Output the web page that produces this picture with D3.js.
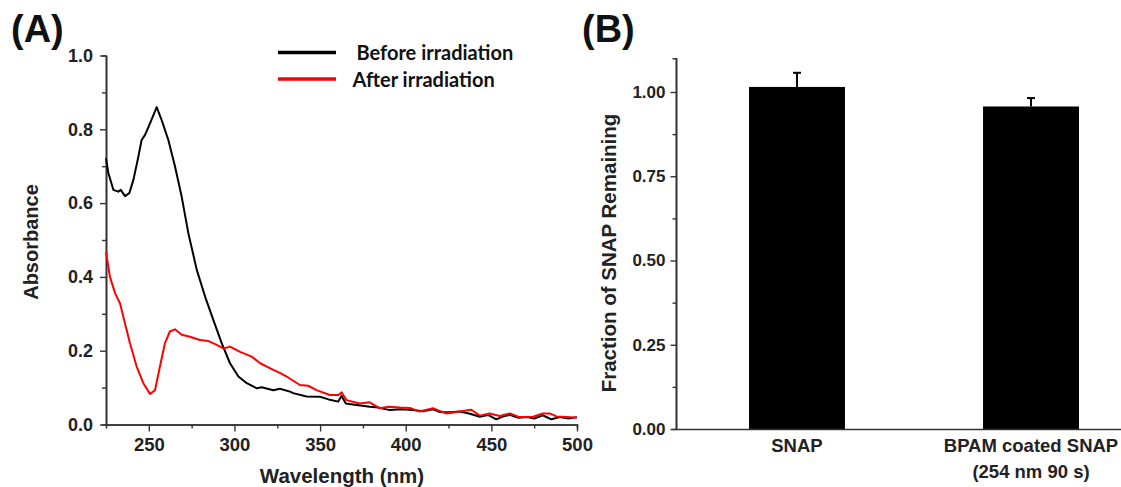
<!DOCTYPE html>
<html>
<head>
<meta charset="utf-8">
<script src="https://cdn.jsdelivr.net/npm/d3@7"></script>
<style>
  body { margin: 0; background: #fff; }
  svg { display: block; font-family: "Liberation Sans", Arial, sans-serif; font-weight: bold; }
</style>
</head>
<body>
<div id="chart"></div>
<script>
// Panel A: absorbance spectra
var beforeWl = [225, 226.4, 229.3, 232.2, 233.6, 236.1, 238.6, 241, 243.9, 245.8, 247.8, 250.7, 254.6, 257.5,
    261.4, 265.3, 269.2, 273.1, 278, 282.9, 287.7, 292.6, 297.4, 302.3, 307.2, 313, 315.9, 322.7, 326.5,
    332.4, 334.3, 342.1, 349.9, 355, 360.6, 362.5, 365, 371.3, 379, 384, 390.7, 397, 404.3, 410, 415.9,
    420, 426, 431.5, 437, 443.2, 448, 452.9, 457, 460.7, 466, 471, 475, 480, 485, 490, 495, 500];
var beforeAbs = [0.721, 0.681, 0.636, 0.631, 0.636, 0.619, 0.627, 0.663, 0.726, 0.771, 0.785, 0.816, 0.86, 0.825,
    0.771, 0.699, 0.617, 0.518, 0.419, 0.346, 0.283, 0.22, 0.166, 0.13, 0.112, 0.098, 0.101, 0.093, 0.097,
    0.089, 0.085, 0.076, 0.075, 0.068, 0.062, 0.078, 0.057, 0.053, 0.048, 0.046, 0.039, 0.041, 0.039, 0.036, 0.041,
    0.034, 0.033, 0.035, 0.030, 0.021, 0.026, 0.014, 0.022, 0.026, 0.018, 0.02, 0.016, 0.025, 0.014, 0.02, 0.016, 0.02];

var afterWl = [225, 227.3, 230.3, 233.2, 236.1, 239, 242.9, 246.8, 250.7, 253.6, 256.5, 259.4, 262.3, 265.3,
    269.2, 274, 279.9, 284.8, 288.7, 293.6, 297.4, 303.3, 310.1, 315, 322.7, 326.5, 330.5, 338.2, 343,
    347.9, 355.7, 360.7, 362.5, 365.4, 373.2, 379, 384.9, 390, 396.5, 402.4, 408.2, 415.9, 419, 423.7,
    431.5, 438.3, 443.2, 449, 454.9, 460.7, 466.5, 474.3, 480.1, 484, 488, 494, 500];
var afterAbs = [0.468, 0.40, 0.356, 0.328, 0.274, 0.22, 0.157, 0.112, 0.083, 0.093, 0.157, 0.22, 0.252, 0.258,
    0.243, 0.238, 0.229, 0.226, 0.218, 0.206, 0.211, 0.197, 0.184, 0.166, 0.148, 0.14, 0.13, 0.107, 0.105,
    0.093, 0.08, 0.08, 0.087, 0.066, 0.057, 0.06, 0.044, 0.048, 0.046, 0.045, 0.035, 0.044, 0.038, 0.03,
    0.035, 0.040, 0.024, 0.03, 0.023, 0.03, 0.02, 0.021, 0.03, 0.03, 0.022, 0.02, 0.018];

var seriesNames = ["Before irradiation", "After irradiation"];
var seriesColors = ["#000000", "#ff0000"];

var xTicksA = [250, 300, 350, 400, 450, 500];
var xMinorA = [275, 325, 375, 425, 475];
var yTicksA = [0, 0.2, 0.4, 0.6, 0.8, 1.0];
var yMinorA = [0.1, 0.3, 0.5, 0.7, 0.9];

// Panel B: fraction of SNAP remaining
var categories = ["SNAP", "BPAM coated SNAP|(254 nm 90 s)"];
var fractions = [1.015, 0.957];
var errors = [0.042, 0.025];
var yTicksB = [0, 0.25, 0.5, 0.75, 1.0];
var yMinorB = [0.125, 0.375, 0.625, 0.875];

var width = 1121, height = 487;
var axisColor = "#333";

var svg = d3.select("#chart").append("svg")
    .attr("width", width)
    .attr("height", height);

function styleAxis(g, fontSize) {
    g.select(".domain").attr("stroke", axisColor).attr("stroke-width", 1.6);
    g.selectAll(".tick line").attr("stroke", axisColor).attr("stroke-width", 1.4);
    g.selectAll("text")
        .attr("fill", "#222")
        .style("font-size", fontSize + "px")
        .style("font-weight", "bold")
        .style("font-family", "'Liberation Sans', Arial, sans-serif");
}

// ---------- Panel A ----------
var xA = d3.scaleLinear().domain([225, 500]).range([106, 577]);
var yA = d3.scaleLinear().domain([0, 1]).range([424.5, 55.5]);

var gA = svg.append("g");

// minor ticks first (no labels)
gA.append("g")
    .attr("transform", "translate(0," + yA(0) + ")")
    .call(d3.axisBottom(xA).tickValues(xMinorA).tickSize(4).tickFormat(""))
    .call(function (g) { styleAxis(g, 18); });
gA.append("g")
    .attr("transform", "translate(" + xA(225) + ",0)")
    .call(d3.axisLeft(yA).tickValues(yMinorA).tickSize(4).tickFormat(""))
    .call(function (g) { styleAxis(g, 18); });

var xAxisA = gA.append("g")
    .attr("transform", "translate(0," + yA(0) + ")")
    .call(d3.axisBottom(xA).tickValues(xTicksA).tickSize(7).tickSizeOuter(0).tickFormat(d3.format("d")))
    .call(function (g) { styleAxis(g, 18.5); });
xAxisA.selectAll("text").attr("y", 26).attr("dy", null);

var yAxisA = gA.append("g")
    .attr("transform", "translate(" + xA(225) + ",0)")
    .call(d3.axisLeft(yA).tickValues(yTicksA).tickSize(6).tickSizeOuter(0).tickPadding(7).tickFormat(d3.format(".1f")))
    .call(function (g) { styleAxis(g, 18); });

var line = d3.line()
    .x(function (d) { return xA(d[0]); })
    .y(function (d) { return yA(d[1]); })
    .curve(d3.curveLinear);

var beforeData = d3.zip(beforeWl, beforeAbs);
var afterData = d3.zip(afterWl, afterAbs);

gA.append("path")
    .datum(beforeData)
    .attr("d", line)
    .attr("fill", "none")
    .attr("stroke", seriesColors[0])
    .attr("stroke-width", 2)
    .attr("stroke-linejoin", "round");
gA.append("path")
    .datum(afterData)
    .attr("d", line)
    .attr("fill", "none")
    .attr("stroke", seriesColors[1])
    .attr("stroke-width", 2)
    .attr("stroke-linejoin", "round");

// legend
var legendY = [52.5, 79];
var legendTextX = [356.5, 352.5];
seriesNames.forEach(function (name, i) {
    gA.append("line")
        .attr("x1", 278).attr("x2", 336)
        .attr("y1", legendY[i]).attr("y2", legendY[i])
        .attr("stroke", seriesColors[i])
        .attr("stroke-width", 3.5);
    gA.append("text")
        .attr("x", legendTextX[i])
        .attr("y", legendY[i] + 7.5)
        .style("font-family", "Lato, 'Open Sans', sans-serif")
        .style("font-size", "20px")
        .style("font-weight", "bold")
        .attr("fill", "#111")
        .text(name);
});

gA.append("text")
    .attr("x", 342).attr("y", 483)
    .attr("text-anchor", "middle")
    .style("font-size", "20.5px")
    .attr("fill", "#222")
    .text("Wavelength (nm)");
gA.append("text")
    .attr("transform", "translate(37.5,242) rotate(-90)")
    .attr("text-anchor", "middle")
    .style("font-size", "20px")
    .attr("fill", "#222")
    .text("Absorbance");
svg.append("text")
    .attr("x", 11).attr("y", 42)
    .style("font-size", "38px")
    .attr("fill", "#111")
    .text("(A)");

// ---------- Panel B ----------
var xB = d3.scaleBand().domain(categories).range([676, 1152]).paddingInner(0.59).paddingOuter(0.312);
var yB = d3.scaleLinear().domain([0, 1.1]).range([429, 58.3]);

var gB = svg.append("g");

gB.append("g")
    .attr("transform", "translate(676,0)")
    .call(d3.axisLeft(yB).tickValues(yMinorB).tickSize(3.5).tickFormat(""))
    .call(function (g) { styleAxis(g, 17); });
gB.append("g")
    .attr("transform", "translate(676,0)")
    .call(d3.axisLeft(yB).tickValues(yTicksB).tickSize(5.5).tickSizeOuter(0).tickPadding(5).tickFormat(d3.format(".2f")))
    .call(function (g) { styleAxis(g, 17); });

gB.selectAll("rect.bar")
    .data(categories)
    .enter()
    .append("rect")
    .attr("class", "bar")
    .attr("x", function (d) { return xB(d); })
    .attr("width", xB.bandwidth())
    .attr("y", function (d, i) { return yB(fractions[i]); })
    .attr("height", function (d, i) { return yB(0) - yB(fractions[i]); })
    .attr("fill", "#000");

// upper error bars only
categories.forEach(function (c, i) {
    var cx = xB(c) + xB.bandwidth() / 2;
    gB.append("line")
        .attr("x1", cx).attr("x2", cx)
        .attr("y1", yB(fractions[i])).attr("y2", yB(fractions[i] + errors[i]))
        .attr("stroke", "#000").attr("stroke-width", 2);
    gB.append("line")
        .attr("x1", cx - 4).attr("x2", cx + 4)
        .attr("y1", yB(fractions[i] + errors[i])).attr("y2", yB(fractions[i] + errors[i]))
        .attr("stroke", "#000").attr("stroke-width", 2);
});

var xAxisB = gB.append("g")
    .attr("transform", "translate(0," + yB(0) + ")")
    .call(d3.axisBottom(xB).tickSize(0).tickSizeOuter(0).tickFormat(""))
    .call(function (g) { styleAxis(g, 18.5); });

// category labels (two lines for the second one)
categories.forEach(function (c) {
    var parts = c.split("|");
    var t = gB.append("text")
        .attr("text-anchor", "middle")
        .style("font-size", "18.5px")
        .attr("fill", "#222");
    parts.forEach(function (p, j) {
        t.append("tspan")
            .attr("x", xB(c) + xB.bandwidth() / 2)
            .attr("y", 452 + j * 26)
            .text(p);
    });
});

gB.append("text")
    .attr("transform", "translate(616,253) rotate(-90)")
    .attr("text-anchor", "middle")
    .style("font-size", "20.5px")
    .attr("fill", "#222")
    .text("Fraction of SNAP Remaining");
svg.append("text")
    .attr("x", 582).attr("y", 42)
    .style("font-size", "38px")
    .attr("fill", "#111")
    .text("(B)");
</script>
</body>
</html>
